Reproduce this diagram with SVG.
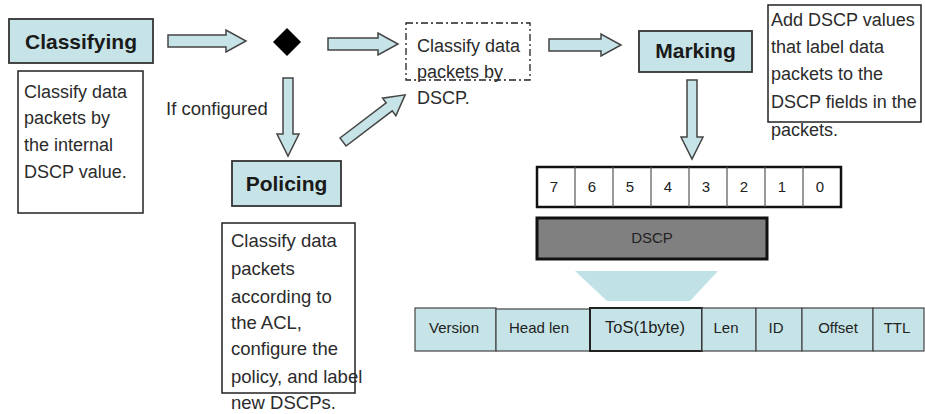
<svg xmlns="http://www.w3.org/2000/svg" width="925" height="414" viewBox="0 0 925 414">
<style>
.title{font-family:"Liberation Sans",Arial,sans-serif;font-weight:bold;font-size:21px;fill:#1a1a1a;text-anchor:middle}
.desc{font-family:"Liberation Sans",Arial,sans-serif;font-size:18px;fill:#2b2b2b}
.blue{fill:#c6e4e7;stroke:#333;stroke-width:1.8}
.box{fill:#fff;stroke:#222;stroke-width:1.5}
.arrow{fill:#c6e4e7;stroke:#444;stroke-width:1.5;stroke-linejoin:miter}
.small{font-family:"Liberation Sans",Arial,sans-serif;font-size:15px;fill:#222;text-anchor:middle}
.cell{fill:#c6e4e7;stroke:#444;stroke-width:1.2}
</style>
<rect width="925" height="414" fill="#fff"/>

<g id="connectors">
  <polygon class="arrow" points="168,35 226,35 226,30 246,41 226,52 226,47 168,47"/>
  <polygon class="arrow" points="328,38 378,38 378,33 398,44 378,55 378,50 328,50"/>
  <polygon class="arrow" points="549,39 601,39 601,34 621,45 601,56 601,51 549,51"/>
  <polygon class="arrow" points="283,78 293,78 293,134 299,134 288,156 277,134 283,134"/>
  <polygon class="arrow" points="687,80 697,80 697,137 703,137 692,159 681,137 687,137"/>
  <polygon class="arrow" transform="translate(343,142) rotate(-37.2)" points="0,-5 58,-5 58,-11 78,0 58,11 58,5 0,5"/>
</g>

<g id="classifying">
  <rect class="blue" x="9" y="19" width="144" height="44"/>
  <text class="title" x="81" y="49">Classifying</text>
</g>
<g id="classifying-desc">
  <rect class="box" x="18" y="71" width="125" height="142"/>
  <text class="desc" x="24" y="98">Classify data</text>
  <text class="desc" x="24" y="124">packets by</text>
  <text class="desc" x="24" y="151">the internal</text>
  <text class="desc" x="24" y="178">DSCP value.</text>
</g>

<g id="decision">
  <polygon points="287,28 301,42 287,56 273,42" fill="#000"/>
</g>

<g id="if-configured">
  <text class="desc" x="166" y="115" style="font-size:18.5px">If configured</text>
</g>

<g id="policing">
  <rect class="blue" x="232" y="161" width="109" height="45"/>
  <text class="title" x="286.5" y="191">Policing</text>
</g>
<g id="policing-desc">
  <rect class="box" x="222" y="223" width="133" height="170"/>
  <text class="desc" x="231" y="247" style="font-size:18.5px">Classify data</text>
  <text class="desc" x="231" y="275" style="font-size:18.5px">packets</text>
  <text class="desc" x="231" y="303" style="font-size:18.5px">according to</text>
  <text class="desc" x="231" y="329" style="font-size:18.5px">the ACL,</text>
  <text class="desc" x="231" y="355" style="font-size:18.5px">configure the</text>
  <text class="desc" x="231" y="383" style="font-size:18.5px">policy, and label</text>
  <text class="desc" x="231" y="409" style="font-size:18.5px">new DSCPs.</text>
</g>

<g id="classify-dscp">
  <rect x="406" y="23" width="124" height="57" fill="none" stroke="#222" stroke-width="1.3" stroke-dasharray="7,3,2,3"/>
  <text class="desc" x="417" y="52">Classify data</text>
  <text class="desc" x="417" y="78">packets by</text>
  <text class="desc" x="417" y="104">DSCP.</text>
</g>

<g id="marking">
  <rect class="blue" x="639" y="31" width="113" height="41"/>
  <text class="title" x="695.5" y="58">Marking</text>
</g>
<g id="marking-desc">
  <rect class="box" x="768" y="5" width="153" height="117"/>
  <text class="desc" x="771" y="26">Add DSCP values</text>
  <text class="desc" x="771" y="53">that label data</text>
  <text class="desc" x="771" y="80">packets to the</text>
  <text class="desc" x="771" y="108">DSCP fields in the</text>
  <text class="desc" x="771" y="136">packets.</text>
</g>

<g id="bit-row">
  <rect x="537" y="167" width="304" height="40" fill="#fff" stroke="#111" stroke-width="2.5"/>
  <g stroke="#555" stroke-width="1.2">
    <line x1="575" y1="167" x2="575" y2="207"/>
    <line x1="613" y1="167" x2="613" y2="207"/>
    <line x1="651" y1="167" x2="651" y2="207"/>
    <line x1="689" y1="167" x2="689" y2="207"/>
    <line x1="727" y1="167" x2="727" y2="207"/>
    <line x1="765" y1="167" x2="765" y2="207"/>
    <line x1="803" y1="167" x2="803" y2="207"/>
  </g>
  <text class="small" x="554" y="192">7</text>
  <text class="small" x="592" y="192">6</text>
  <text class="small" x="630" y="192">5</text>
  <text class="small" x="668" y="192">4</text>
  <text class="small" x="706" y="192">3</text>
  <text class="small" x="744" y="192">2</text>
  <text class="small" x="782" y="192">1</text>
  <text class="small" x="820" y="192">0</text>
</g>

<g id="dscp">
  <rect x="537" y="218" width="230" height="41" fill="#808080" stroke="#111" stroke-width="3"/>
  <text class="small" x="652" y="243">DSCP</text>
</g>

<g id="funnel">
  <polygon points="575,271 718,271 690,301 607,301" fill="#c0e2e6"/>
</g>

<g id="ip-header">
  <rect class="cell" x="415" y="308" width="81" height="43"/>
  <rect class="cell" x="496" y="309" width="94" height="42"/>
  <rect class="cell" x="590" y="308" width="112" height="43" style="stroke:#222;stroke-width:2"/>
  <rect class="cell" x="702" y="308" width="54" height="43"/>
  <rect class="cell" x="756" y="308" width="46" height="43"/>
  <rect class="cell" x="802" y="308" width="71" height="43"/>
  <rect class="cell" x="873" y="308" width="51" height="43"/>
  <text class="small" x="454" y="333">Version</text>
  <text class="small" x="539" y="333">Head len</text>
  <text class="small" x="645" y="333" style="font-size:16.5px">ToS(1byte)</text>
  <text class="small" x="726" y="333">Len</text>
  <text class="small" x="776" y="333">ID</text>
  <text class="small" x="838" y="333">Offset</text>
  <text class="small" x="897" y="333">TTL</text>
</g>
</svg>
